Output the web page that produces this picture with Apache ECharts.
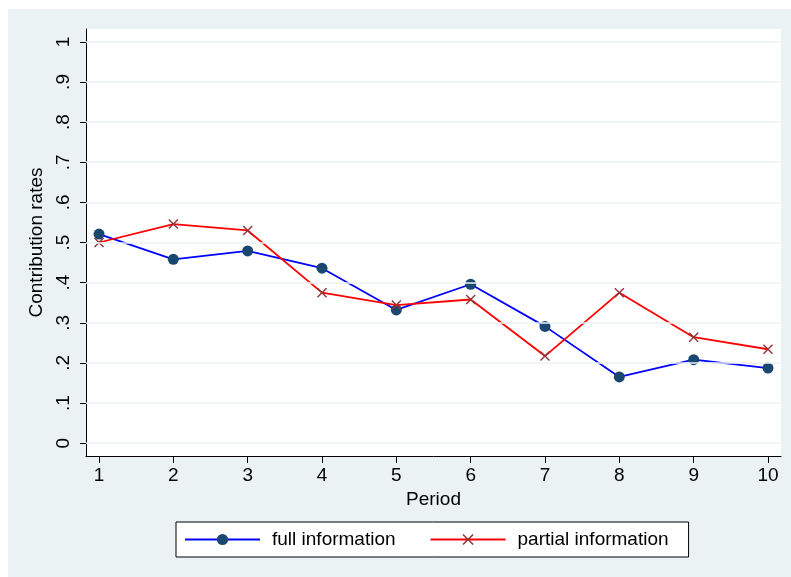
<!DOCTYPE html>
<html>
<head>
<meta charset="utf-8">
<script src="https://cdn.jsdelivr.net/npm/echarts@6/dist/echarts.min.js"></script>
<style>
html,body{margin:0;padding:0;background:#ffffff;}
#chart{width:791px;height:577px;}
</style>
</head>
<body>
<div id="chart"></div>
<script>
var periods = [1, 2, 3, 4, 5, 6, 7, 8, 9, 10];
var fullInfo = [0.521, 0.458, 0.479, 0.436, 0.332, 0.396, 0.291, 0.165, 0.208, 0.187];
var partialInfo = [0.500, 0.546, 0.530, 0.375, 0.344, 0.358, 0.217, 0.375, 0.264, 0.234];
var yTickLabels = {0: '0', 1: '.1', 2: '.2', 3: '.3', 4: '.4', 5: '.5', 6: '.6', 7: '.7', 8: '.8', 9: '.9', 10: '1'};

var FONT = 'Liberation Sans';
var crossPath = 'path://M0,1 L1,0 L5,4 L9,0 L10,1 L6,5 L10,9 L9,10 L5,6 L1,10 L0,9 L4,5 Z';

var chart = echarts.init(document.getElementById('chart'), null, {renderer: 'canvas'});
chart.setOption({
  backgroundColor: '#ffffff',
  animation: false,
  graphic: [{
    type: 'rect', z: -10, silent: true,
    shape: {x: 8, y: 9, width: 783, height: 568},
    style: {fill: '#eaf2f3'}
  }],
  grid: {
    left: 86, top: 29, right: 10, bottom: 121,
    show: true, backgroundColor: '#ffffff', borderWidth: 0
  },
  legend: {
    left: 176, top: 522,
    padding: [8, 20, 8, 8],
    itemGap: 34,
    itemWidth: 75, itemHeight: 14,
    backgroundColor: '#ffffff',
    borderColor: '#000000', borderWidth: 1,
    borderRadius: 0,
    textStyle: {fontFamily: FONT, fontSize: 19, color: '#000000', padding: [0, 0, 0, 7]},
    data: ['full information', 'partial information']
  },
  xAxis: {
    type: 'value',
    min: 0.825, max: 10.175,
    name: 'Period', nameLocation: 'middle', nameGap: 30,
    nameTextStyle: {fontFamily: FONT, fontSize: 19, color: '#000000'},
    axisLine: {show: true, onZero: false, lineStyle: {color: '#000000', width: 1}},
    axisTick: {show: true, length: 7, lineStyle: {color: '#000000'},
      customValues: periods},
    axisLabel: {fontFamily: FONT, fontSize: 19, color: '#000000', margin: 10,
      customValues: periods, formatter: function (v) { return String(v); }},
    splitLine: {show: false}
  },
  yAxis: {
    type: 'value',
    min: -0.032, max: 1.032,
    name: 'Contribution rates', nameLocation: 'middle', nameGap: 34, nameRotate: 90,
    nameTextStyle: {fontFamily: FONT, fontSize: 19, color: '#000000'},
    axisLine: {show: true, onZero: false, lineStyle: {color: '#000000', width: 1}},
    axisTick: {show: true, length: 6, lineStyle: {color: '#000000'},
      customValues: [0, 0.1, 0.2, 0.3, 0.4, 0.5, 0.6, 0.7, 0.8, 0.9, 1]},
    axisLabel: {fontFamily: FONT, fontSize: 19, color: '#000000', margin: 13, rotate: 90,
      customValues: [0, 0.1, 0.2, 0.3, 0.4, 0.5, 0.6, 0.7, 0.8, 0.9, 1],
      formatter: function (v) { return yTickLabels[Math.round(v * 10)]; }},
    splitLine: {show: false}
  },
  series: [
    {
      type: 'line', name: 'grid', silent: true, data: [],
      markLine: {
        silent: true, symbol: 'none', label: {show: false},
        lineStyle: {color: '#eaf2f3', width: 1.5, type: 'solid'},
        data: [0, 0.1, 0.2, 0.3, 0.4, 0.5, 0.6, 0.7, 0.8, 0.9, 1].map(function (v) { return {yAxis: v}; })
      }
    },
    {
      name: 'full information', type: 'line',
      data: periods.map(function (p, i) { return [p, fullInfo[i]]; }),
      lineStyle: {color: '#0000ff', width: 1.8},
      symbol: 'circle', symbolSize: 11,
      itemStyle: {color: '#1a476f'},
      z: 3
    },
    {
      name: 'partial information', type: 'line',
      data: periods.map(function (p, i) { return [p, partialInfo[i]]; }),
      lineStyle: {color: '#ff0000', width: 1.8},
      symbol: crossPath, symbolSize: 10,
      itemStyle: {color: '#90353b'},
      z: 4
    }
  ]
});
</script>
</body>
</html>
